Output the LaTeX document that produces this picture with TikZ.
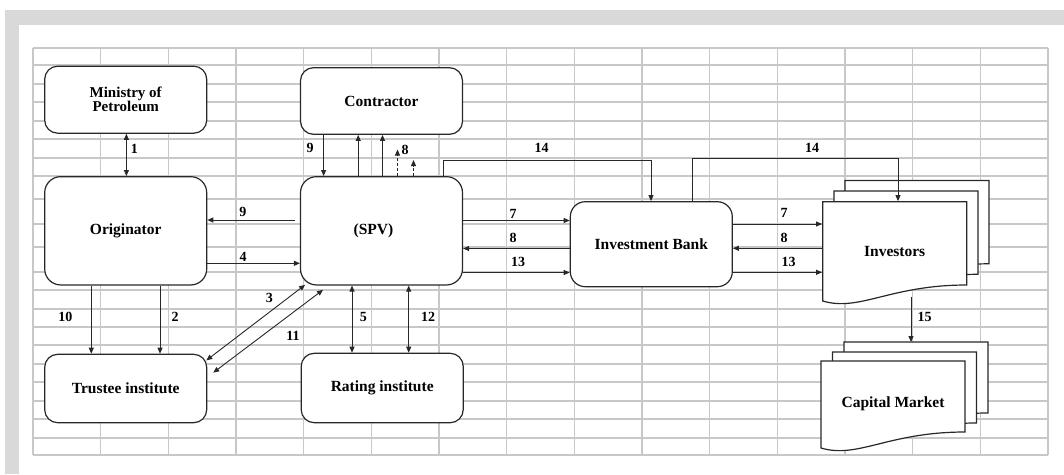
\documentclass[tikz,border=0pt]{standalone}
\usepackage{fontspec}
\setmainfont{Liberation Serif}
\usetikzlibrary{arrows.meta,positioning}
\definecolor{frame}{RGB}{217,217,217}
\definecolor{cell}{RGB}{200,200,200}
\definecolor{ink}{RGB}{40,40,40}
\tikzset{
  box/.style={draw=ink,line width=1.2pt,fill=white,rounded corners=13pt,minimum width=162pt,
              font=\fontsize{15.5}{16}\selectfont\bfseries,align=center},
  num/.style={font=\fontsize{14}{14}\selectfont\bfseries,inner sep=0pt},
  link/.style={draw=ink,line width=0.9pt},
  sheet/.style={draw=ink,line width=1.2pt,fill=white},
  gridline/.style={draw=cell,line width=1.1pt}
}
% one sheet of a document stack, #1 = height of its right side
\newcommand{\docsheet}[1]{\path[sheet] (0,0) -- (144,0) -- (144,#1)
  .. controls (67,#1) and (37,#1+27) .. (0,#1+16) -- cycle;}

\begin{document}
\begin{tikzpicture}[x=1pt,y=-1pt,>={Triangle[length=6pt,width=5pt]}]
\useasboundingbox (0,0) rectangle (1064,474);
\fill[white] (0,0) rectangle (1064,474);
\fill[frame] (5,10) rectangle (1064,25);
\fill[frame] (5,10) rectangle (19,474);
% sheet grid
\foreach \gx in {0,...,15}
  \draw[gridline] ({33+67.667*\gx},48) -- ({33+67.667*\gx},455);
\foreach \gy in {48,65,84,102,121,139,158,176,199,224,247,272,290,309,327,345,364,382,401,419,438,455}
  \draw[gridline] (33,\gy) -- (1048,\gy);
% boxes
\node[box,minimum height=67pt,font=\fontsize{15}{13.8}\selectfont\bfseries](min)at(125.7,99.7){Ministry of\\Petroleum};
\node[box,minimum height=66.6pt](con)at(381.5,101){Contractor};
\node[box,minimum height=108.3pt,rounded corners=16pt](orig)at(125.7,230.8){Originator};
\node[box,minimum height=108.3pt,rounded corners=16pt](spv)at(381.5,230.8){(SPV)\kern16pt};
\node[box,minimum height=85pt,rounded corners=15pt](ib)at(651.3,244.2){Investment Bank};
\node[box,minimum height=68.4pt](tru)at(125.7,388.5){Trustee institute};
\node[box,minimum height=69.4pt](rat)at(382.2,388){Rating institute};
% document stacks
\begin{scope}[shift={(845,180.5)}]\docsheet{83.3}\end{scope}
\begin{scope}[shift={(834,191)}]\docsheet{83.3}\end{scope}
\begin{scope}[shift={(822.7,201.7)}]\docsheet{83.3}\end{scope}
\node[box,draw=none,fill=none,minimum width=144pt,minimum height=98.6pt](inv)at(894.7,251){Investors};
\begin{scope}[shift={(844,342)}]\docsheet{71}\end{scope}
\begin{scope}[shift={(832.5,352)}]\docsheet{71}\end{scope}
\begin{scope}[shift={(821,361)}]\docsheet{71}\end{scope}
\node[box,draw=none,fill=none,minimum width=144pt,minimum height=85pt](cm)at(893,403.5){Capital Market};
\coordinate (invbot) at (911,296.5);
\coordinate (cmtop) at (911,342);
\coordinate (d1) at (397.5,149.5);
\coordinate (d2) at (413.5,160);
% connectors
\draw[link,<->] (min.south -| 126.4,0) -- (orig.north -| 126.4,0);
\draw[link,->] (con.south -| 323.6,0) -- (spv.north -| 323.6,0);
\draw[link,->] (spv.north -| 358.2,0) -- (con.south -| 358.2,0);
\draw[link,->] (spv.north -| 382.5,0) -- (con.south -| 382.5,0);
\draw[link,->,dash pattern=on 3pt off 2pt] (spv.north -| d1) -- (d1);
\draw[link,->,dash pattern=on 3pt off 2pt] (spv.north -| d2) -- (d2);
\draw[link,->] (spv.north -| 443.5,0) |- (651,160) -- (ib.north -| 651,0);
\draw[link,->] (ib.north -| 692.5,0) |- (898,158.3) -- (inv.north -| 898,0);
\draw[link,->,shorten <=5pt] (spv.west |- 0,220) -- (orig.east |- 0,220);
\draw[link,->] (orig.east |- 0,263.3) -- (spv.west |- 0,263.3);
\draw[link,->] (spv.east |- 0,220.5) -- (ib.west |- 0,220.5);
\draw[link,->] (ib.west |- 0,248.5) -- (spv.east |- 0,248.5);
\draw[link,->] (spv.east |- 0,272.5) -- (ib.west |- 0,272.5);
\draw[link,->] (ib.east |- 0,224) -- (inv.west |- 0,224);
\draw[link,->] (inv.west |- 0,248.3) -- (ib.east |- 0,248.3);
\draw[link,->] (ib.east |- 0,272.3) -- (inv.west |- 0,272.3);
\draw[link,->] (orig.south -| 91.3,0) -- (tru.north -| 91.3,0);
\draw[link,->] (orig.south -| 160,0) -- (tru.north -| 160,0);
\draw[link,<->] ([shift={(-1,6.7)}]tru.north east) -- ([shift={(5.2,-0.7)}]spv.south west);
\draw[link,<->] ([shift={(5.9,19)}]tru.north east) -- ([shift={(23.1,4.3)}]spv.south west);
\draw[link,<->] (spv.south -| 352,0) -- (rat.north -| 352,0);
\draw[link,<->] (spv.south -| 408.7,0) -- (rat.north -| 408.7,0);
\draw[link,->] (invbot) -- (cmtop);
% numbers
\node[num](n1)at(134.3,149){1};
\node[num](n9a)at(310,148){9};
\node[num](n8a)at(405,150){8};
\node[num](n14a)at(541.5,147.5){14};
\node[num](n14b)at(812,147.5){14};
\node[num](n9b)at(242.8,211.7){9};
\node[num](n4)at(243,256.7){4};
\node[num](n7a)at(513,213.5){7};
\node[num](n8b)at(513,238){8};
\node[num](n13a)at(518,262){13};
\node[num](n7b)at(784,213.3){7};
\node[num](n8c)at(784,238.3){8};
\node[num](n13b)at(788.5,261.7){13};
\node[num](n10)at(65.4,317.3){10};
\node[num](n2)at(175.2,317){2};
\node[num](n3)at(269.4,298.3){3};
\node[num](n11)at(293,336){11};
\node[num](n5)at(363.3,317){5};
\node[num](n12)at(428.2,317){12};
\node[num](n15)at(924.5,317.3){15};
\end{tikzpicture}
\end{document}
